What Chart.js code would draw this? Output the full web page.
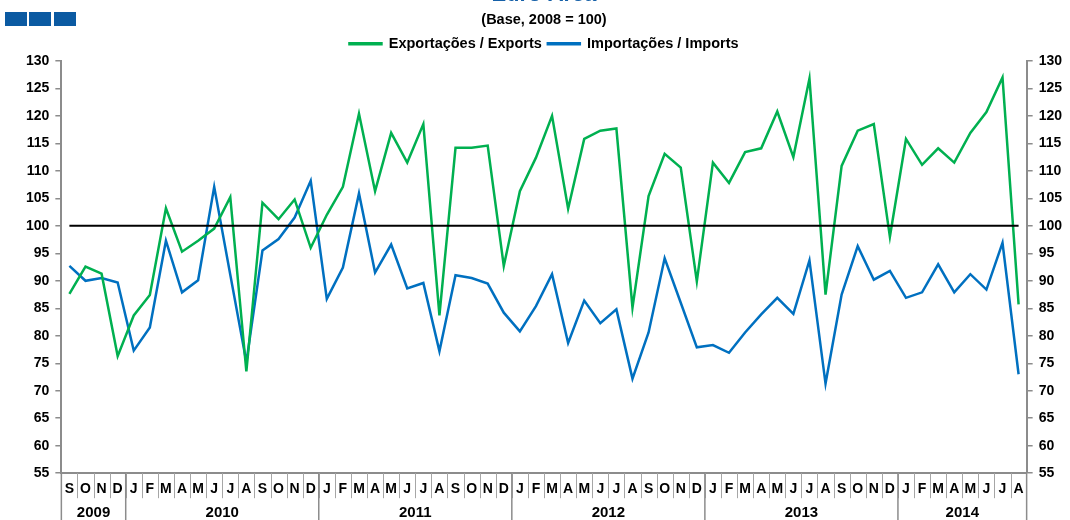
<!DOCTYPE html>
<html>
<head>
<meta charset="utf-8">
<script src="https://cdn.jsdelivr.net/npm/chart.js@4.4.1/dist/chart.umd.min.js"></script>
<style>
  html, body { margin: 0; padding: 0; background: #fff; overflow: hidden; }
  #wrap { position: absolute; left: 0; top: -16px; width: 1070px; height: 536px; }
</style>
</head>
<body>
<div id="wrap"><canvas id="chart" width="1070" height="536"></canvas></div>
<script>
// Sep 2009 .. Aug 2014
const months = [
  'S','O','N','D',
  'J','F','M','A','M','J','J','A','S','O','N','D',
  'J','F','M','A','M','J','J','A','S','O','N','D',
  'J','F','M','A','M','J','J','A','S','O','N','D',
  'J','F','M','A','M','J','J','A','S','O','N','D',
  'J','F','M','A','M','J','J','A'
];
const years = ['2009', '2010', '2011', '2012', '2013', '2014'];
const yearLengths = [4, 12, 12, 12, 12, 8];

const exportsIdx = [
  87.6, 92.6, 91.3, 76.3,
  83.7, 87.4, 103.2, 95.3, 97.3, 99.5, 105.2, 73.5, 104.2, 101.2, 104.8, 96.0,
  102.0, 107.1, 120.4, 106.3, 116.9, 111.5, 118.5, 83.7, 114.2, 114.2, 114.6, 92.7,
  106.3, 112.4, 120.0, 103.1, 115.8, 117.3, 117.7, 85.1, 105.4, 113.1, 110.6, 89.9,
  111.5, 107.8, 113.4, 114.1, 120.8, 112.5, 126.8, 87.5, 110.9, 117.3, 118.5, 98.0,
  115.8, 111.1, 114.1, 111.5, 116.9, 120.7, 127.0, 85.7
];
const importsIdx = [
  92.7, 90.0, 90.5, 89.7,
  77.3, 81.5, 97.3, 87.9, 90.1, 107.1, 91.1, 75.2, 95.5, 97.6, 101.5, 108.2,
  86.7, 92.4, 105.9, 91.5, 96.6, 88.6, 89.6, 77.2, 91.0, 90.5, 89.5, 84.2,
  80.8, 85.4, 91.2, 78.7, 86.4, 82.3, 84.8, 72.2, 80.6, 94.1, 86.0, 77.9,
  78.3, 76.9, 80.6, 83.9, 86.9, 84.0, 93.7, 71.3, 87.5, 96.3, 90.2, 91.8,
  86.9, 87.9, 93.0, 87.9, 91.2, 88.4, 96.9, 73.0
];
const baseValue = 100;
const yMin = 55, yMax = 130, yStep = 5;

const FONT = '"Liberation Sans", Arial, sans-serif';
const GREEN = '#00b050';
const BLUE = '#0070c0';
const AXIS = '#8c8c8c';

// header squares, base line, month cells and year row
const extras = {
  id: 'extras',
  beforeDraw(chart) {
    const ctx = chart.ctx;
    ctx.save();
    ctx.fillStyle = '#0b5aa2';
    [5, 29, 54].forEach(x => ctx.fillRect(x, 28, 22, 14));
    ctx.restore();
  },
  afterDatasetsDraw(chart) {
    const ctx = chart.ctx, x = chart.scales.x, y = chart.scales.y;
    const py = y.getPixelForValue(baseValue);
    ctx.save();
    ctx.strokeStyle = '#000';
    ctx.lineWidth = 2;
    ctx.beginPath();
    ctx.moveTo(x.getPixelForValue(0), py);
    ctx.lineTo(x.getPixelForValue(months.length - 1), py);
    ctx.stroke();
    ctx.restore();
  },
  afterDraw(chart) {
    const ctx = chart.ctx, x = chart.scales.x, area = chart.chartArea;
    const bottom = chart.height;
    const edge = (i) => i <= 0 ? area.left : i >= months.length ? area.right
      : (x.getPixelForValue(i - 1) + x.getPixelForValue(i)) / 2;
    ctx.save();
    // month cells
    ctx.strokeStyle = '#a6a6a6';
    ctx.lineWidth = 1;
    ctx.beginPath();
    for (let i = 1; i < months.length; i++) {
      const px = Math.round(edge(i)) + 0.5;
      ctx.moveTo(px, area.bottom);
      ctx.lineTo(px, area.bottom + 25);
    }
    ctx.stroke();
    // outer edges and year separators
    ctx.strokeStyle = AXIS;
    ctx.lineWidth = 1.5;
    ctx.beginPath();
    ctx.moveTo(area.left, area.bottom); ctx.lineTo(area.left, bottom);
    ctx.moveTo(area.right, area.bottom); ctx.lineTo(area.right, bottom);
    ctx.stroke();
    ctx.font = 'bold 15px ' + FONT;
    ctx.fillStyle = '#000';
    ctx.textAlign = 'center';
    ctx.textBaseline = 'middle';
    let start = 0;
    years.forEach((yr, k) => {
      const end = start + yearLengths[k];
      const left = edge(start), right = edge(end);
      if (end < months.length) {
        ctx.beginPath();
        ctx.moveTo(right, area.bottom);
        ctx.lineTo(right, bottom);
        ctx.stroke();
      }
      ctx.fillText(yr, (left + right) / 2, area.bottom + 40);
      start = end;
    });
    ctx.restore();
  }
};

const yAxis = (pos) => ({
  position: pos,
  min: yMin,
  max: yMax,
  grid: { drawOnChartArea: false, tickLength: 6, color: AXIS, lineWidth: 1.5 },
  border: { color: AXIS, width: 2 },
  ticks: { stepSize: yStep, color: '#000', padding: 6, font: { family: FONT, size: 14, weight: 'bold' } }
});

new Chart(document.getElementById('chart'), {
  type: 'line',
  data: {
    labels: months,
    datasets: [
      { label: 'Exportações / Exports', data: exportsIdx, borderColor: GREEN, backgroundColor: GREEN, borderWidth: 2.5, pointRadius: 0, tension: 0, yAxisID: 'y' },
      { label: 'Importações / Imports', data: importsIdx, borderColor: BLUE, backgroundColor: BLUE, borderWidth: 2.5, pointRadius: 0, tension: 0, yAxisID: 'y' }
    ]
  },
  options: {
    responsive: false,
    animation: false,
    devicePixelRatio: 1,
    layout: { padding: { left: 20, right: 2, top: 0, bottom: 14 } },
    scales: {
      x: {
        offset: true,
        grid: { drawOnChartArea: false, drawTicks: false },
        border: { color: AXIS, width: 2 },
        ticks: { autoSkip: false, maxRotation: 0, color: '#000', padding: 8, font: { family: FONT, size: 14, weight: 'bold' } }
      },
      y: yAxis('left'),
      y2: yAxis('right')
    },
    plugins: {
      title: { display: true, text: 'Euro Area', color: '#1560a8', padding: { top: 0, bottom: 0 }, font: { family: FONT, size: 22, weight: 'bold', lineHeight: 1.0 } },
      subtitle: { display: true, text: '(Base, 2008 = 100)', color: '#000', padding: { top: 5, bottom: 2 }, font: { family: FONT, size: 14.5, weight: 'bold' } },
      legend: {
        labels: { boxWidth: 32, boxHeight: 1, padding: 6, color: '#000', font: { family: FONT, size: 14.5, weight: 'bold' } }
      },
      tooltip: { enabled: false }
    }
  },
  plugins: [extras]
});
</script>
</body>
</html>
